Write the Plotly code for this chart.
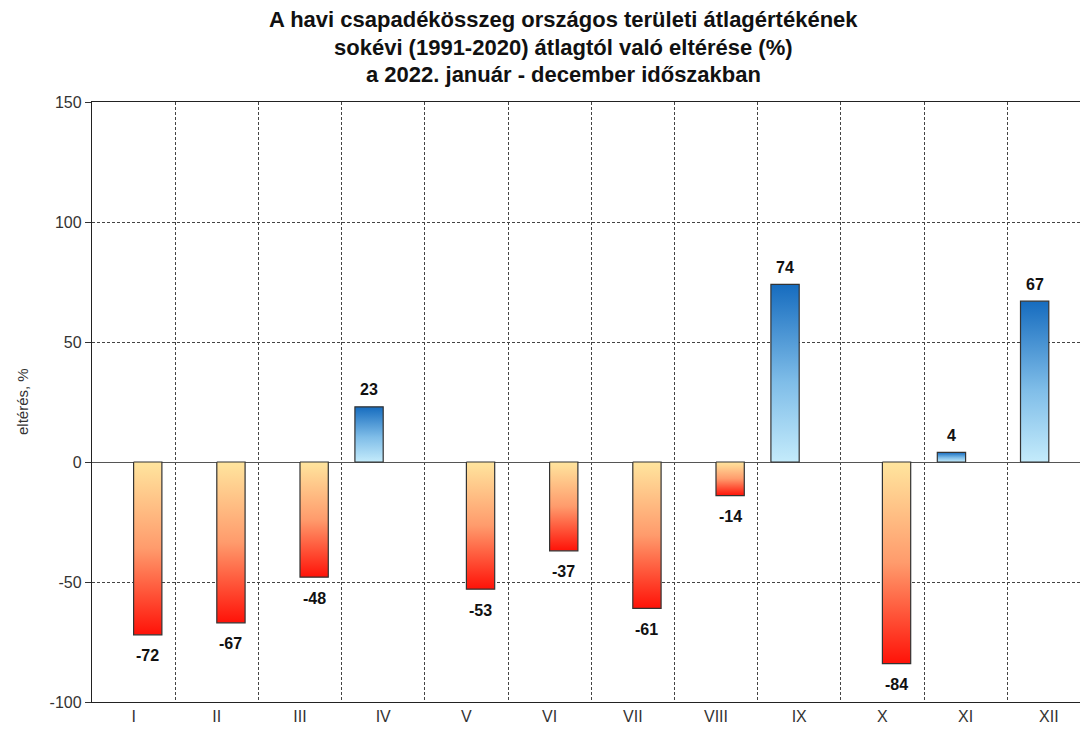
import plotly.graph_objects as go

months = ["I", "II", "III", "IV", "V", "VI", "VII", "VIII", "IX", "X", "XI", "XII"]
values = [-72, -67, -48, 23, -53, -37, -61, -14, 74, -84, 4, 67]

y_ticks = [-100, -50, 0, 50, 100, 150]
y_tick_text = ["-100", "-50", "0", "50", "100", "150"]

title_lines = [
    "A havi csapadékösszeg országos területi átlagértékének",
    "sokévi (1991-2020) átlagtól való eltérése (%)",
    "a 2022. január - december időszakban",
]
y_title = "eltérés, %"

BAR_W = 0.34
POS_SCALE = [[0, "#c4ebfb"], [0.45, "#7fbde8"], [1, "#166cbf"]]
NEG_SCALE = [[0, "#ff1208"], [0.5, "#ff9b6c"], [1, "#ffe59e"]]
FONT = "Liberation Sans, Arial"

fig = go.Figure()

for i, v in enumerate(values):
    if v >= 0:
        x0, x1 = i - BAR_W, i
        scale = POS_SCALE
    else:
        x0, x1 = i, i + BAR_W
        scale = NEG_SCALE
    fig.add_trace(go.Scatter(
        x=[x0, x1, x1, x0, x0], y=[0, 0, v, v, 0],
        mode="lines", fill="toself",
        line=dict(color="#333333", width=1.2),
        fillgradient=dict(type="vertical", colorscale=scale),
        hoverinfo="skip", showlegend=False,
    ))
    fig.add_annotation(
        x=(x0 + x1) / 2, y=v, text="<b>" + str(v) + "</b>", showarrow=False,
        xanchor="center", yanchor="middle", yshift=17 if v >= 0 else -21,
        font=dict(family=FONT, size=16, color="#111111"),
    )

PH = 600
for line, ypx in zip(title_lines, [20, 47, 74]):
    fig.add_annotation(
        text="<b>" + line + "</b>", xref="paper", yref="paper",
        x=(563 - 92) / 988, y=1 + (102 - ypx) / PH, xanchor="center", yanchor="middle",
        showarrow=False, font=dict(family=FONT, size=22, color="#111111"),
    )

fig.add_annotation(
    text=y_title, xref="paper", yref="paper", x=(22 - 92) / 988, y=0.5,
    textangle=-90, xanchor="center", yanchor="middle", showarrow=False,
    font=dict(family=FONT, size=15, color="#333333"),
)

fig.update_layout(
    width=1080, height=733,
    margin=dict(l=92, r=0, t=102, b=31),
    plot_bgcolor="white", paper_bgcolor="white",
    font=dict(family=FONT, size=16, color="#333333"),
)
fig.update_xaxes(
    range=[-0.5, 11.375], tickmode="array", tickvals=list(range(len(months))), ticktext=months,
    showgrid=False, zeroline=False, showline=True, linecolor="#222222", linewidth=1.3, mirror=True,
    ticks="", tickfont=dict(size=16, color="#333333"),
    minor=dict(tickmode="array", tickvals=[i + 0.5 for i in range(len(months) - 1)],
               showgrid=True, gridcolor="#444444", gridwidth=1, griddash="3px,2px", ticks=""),
)
fig.update_yaxes(
    range=[-100, 150], tickmode="array", tickvals=y_ticks, ticktext=y_tick_text,
    showgrid=True, gridcolor="#444444", gridwidth=1, griddash="3px,2px",
    zeroline=True, zerolinecolor="#555555", zerolinewidth=1.3,
    showline=True, linecolor="#222222", linewidth=1.3, mirror=True,
    ticks="outside", ticklen=6, tickcolor="#333333",
    tickfont=dict(size=16, color="#333333"),
)

fig.write_html("out.html")
